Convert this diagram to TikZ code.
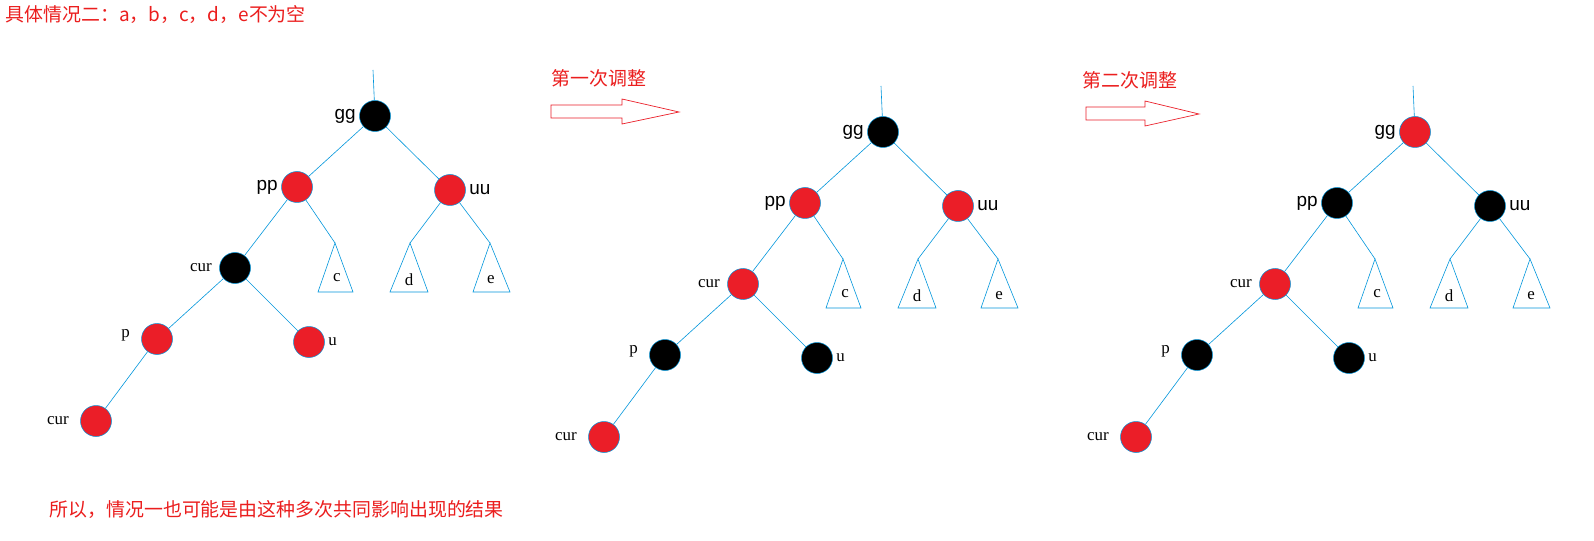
\documentclass[tikz,border=0pt]{standalone}
\usepackage{fontspec}
\usetikzlibrary{positioning}
\newfontfamily\cjk{Noto Sans CJK SC}
\newfontfamily\lblsans{Liberation Sans}
\newfontfamily\lblserif{Liberation Serif}
\begin{document}
\begin{tikzpicture}[x=1bp,y=-1bp,
    edge/.style={draw={rgb,255:red,0;green,150;blue,220}, line width=0.6pt},
    rbnode/.style={circle, minimum size=31bp, inner sep=0pt, draw={rgb,255:red,0;green,150;blue,220}, line width=0.5pt},
    subtree/.style={edge},
    bigname/.style={font=\lblsans\fontsize{19}{19}\selectfont},
    smallname/.style={font=\lblserif\fontsize{17}{17}\selectfont},
    note/.style={text={rgb,255:red,235;green,30;blue,30}, font=\cjk\fontsize{19}{19}\selectfont}]
\definecolor{rbred}{RGB}{235,30,40}
\useasboundingbox[fill=white] (0,0) rectangle (1594,541);
% one tree: #1 name, #2 shift, colours of gg pp uu cur p u cur
\newcommand\rbtree[9]{
  \begin{scope}[shift={#2}]
    \coordinate (top#1) at (373,70);
    \node[rbnode, fill=#3] (gg#1) at (375,116) {};
    \node[rbnode, fill=#4] (pp#1) at (297,187) {};
    \node[rbnode, fill=#5] (uu#1) at (450,190) {};
    \node[rbnode, fill=#6] (cur#1) at (235,268) {};
    \node[rbnode, fill=#7] (p#1) at (157,339) {};
    \node[rbnode, fill=#8] (u#1) at (309,342) {};
    \node[rbnode, fill=#9] (curb#1) at (96,421) {};
    \coordinate (c#1) at (335,243);
    \coordinate (d#1) at (410,243);
    \coordinate (e#1) at (490,243);
    \draw[edge] (top#1) -- (gg#1);
    \draw[edge] (gg#1) -- (pp#1);
    \draw[edge] (gg#1) -- (uu#1);
    \draw[edge] (pp#1) -- (cur#1);
    \draw[edge] (pp#1) -- (c#1);
    \draw[edge] (uu#1) -- (d#1);
    \draw[edge] (uu#1) -- (e#1);
    \draw[edge] (cur#1) -- (p#1);
    \draw[edge] (cur#1) -- (u#1);
    \draw[edge] (p#1) -- (curb#1);
    \draw[subtree] (c#1) -- ++(-17,49) -- ++(35,0) -- cycle;
    \draw[subtree] (d#1) -- ++(-20,49) -- ++(38,0) -- cycle;
    \draw[subtree] (e#1) -- ++(-17,49) -- ++(37,0) -- cycle;
    \node[smallname] at (337,278) {c};
    \node[smallname] at (409,280) {d};
    \node[smallname] at (491,280) {e};
    \node[bigname, left=0pt of gg#1] {gg};
    \node[bigname, left=0pt of pp#1] {pp};
    \node[bigname, right=0pt of uu#1] {uu};
    \node[smallname, left=4pt of cur#1] {cur};
    \node[smallname, left=8pt of p#1, yshift=4pt] {p};
    \node[smallname, right=0pt of u#1] {u};
    \node[smallname, left=8pt of curb#1] {cur};
  \end{scope}}
\rbtree{a}{(0,0)}{black}{rbred}{rbred}{black}{rbred}{rbred}{rbred}
\rbtree{b}{(508,16)}{black}{rbred}{rbred}{rbred}{black}{black}{rbred}
\rbtree{c}{(1040,16)}{rbred}{black}{black}{rbred}{black}{black}{rbred}
% hollow arrows
\draw[draw=rbred, line width=0.7pt] (551,105) -- (622,105) -- (622,99) -- (679,112) -- (622,124) -- (622,118) -- (551,118) -- cycle;
\draw[draw=rbred, line width=0.7pt] (1086,107) -- (1145,107) -- (1145,101) -- (1199,114) -- (1145,126) -- (1145,120) -- (1086,120) -- cycle;
\node[note, anchor=west] (step1) at (548,78) {第一次调整};
\node[note, anchor=west] (step2) at (1079,80) {第二次调整};
\node[note, anchor=west] (title) at (2,15) {具体情况二：a，b，c，d，e不为空};
\node[note, anchor=west] (summary) at (46,510) {所以，情况一也可能是由这种多次共同影响出现的结果};
\end{tikzpicture}
\end{document}
